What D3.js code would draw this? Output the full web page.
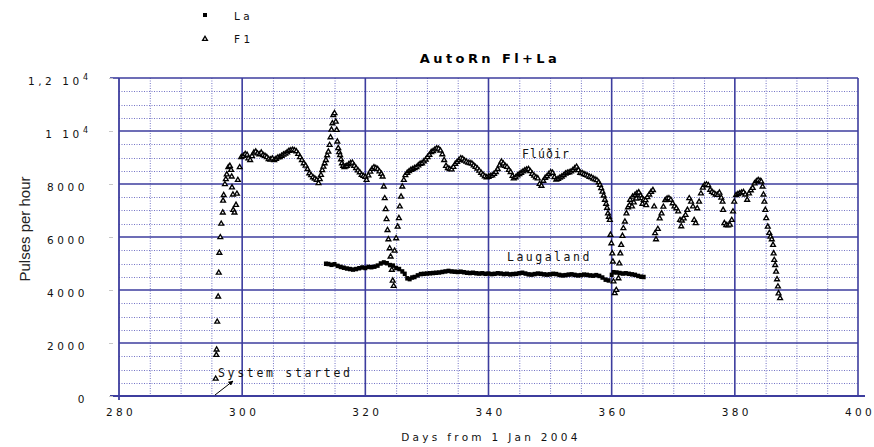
<!DOCTYPE html>
<html>
<head>
<meta charset="utf-8">
<script src="https://cdn.jsdelivr.net/npm/d3@7/dist/d3.min.js"></script>
<style>
  body { margin: 0; background: #fff; }
  svg { display: block; }
</style>
</head>
<body>
<svg id="chart" width="874" height="447"></svg>
<script>
// ---- data -------------------------------------------------------------
const chartTitle = "AutoRn Fl+La";
const xTicks = [280, 300, 320, 340, 360, 380, 400];
const yTicks = [0, 2000, 4000, 6000, 8000, 10000, 12000];
const yTickLabels = ["0", "2000", "4000", "6000", "8000", "1 10^4", "1,2 10^4"];
const seriesNames = ["La", "F1"];

// Laugaland: [day, pulses per hour]
const laPoints = [
  [313.6,5000],[314.0,4990],[314.5,4960],[315.0,4980],[315.5,4920],[316.0,4880],[316.5,4850],
  [317.0,4820],[317.5,4800],[318.0,4780],[318.5,4800],[319.0,4830],[319.5,4860],[320.0,4840],
  [320.5,4880],[321.0,4870],[321.5,4890],[322.0,4930],[322.5,5010],[323.0,5050],[323.5,5020],
  [324.0,4950],[324.5,4930],[325.0,4840],[325.5,4800],[326.0,4710],[326.4,4620],[326.8,4450],
  [327.2,4420],[327.6,4480],[328.0,4500],[328.5,4560],[329.0,4610],[329.5,4620],[330.0,4630],
  [330.5,4640],[331.0,4650],[331.5,4660],[332.0,4670],[332.5,4690],[333.0,4710],[333.5,4730],
  [334.0,4710],[334.5,4700],[335.0,4690],[335.5,4700],[336.0,4680],[336.5,4660],[337.0,4650],
  [337.5,4660],[338.0,4640],[338.5,4630],[339.0,4640],[339.5,4620],[340.0,4630],[340.5,4610],
  [341.0,4620],[341.5,4640],[342.0,4630],[342.5,4610],[343.0,4620],[343.5,4600],[344.0,4610],
  [344.5,4620],[345.0,4640],[345.5,4660],[346.0,4630],[346.5,4600],[347.0,4590],[347.5,4610],
  [348.0,4630],[348.5,4620],[349.0,4600],[349.5,4590],[350.0,4600],[350.5,4620],[351.0,4610],
  [351.5,4580],[352.0,4560],[352.5,4570],[353.0,4590],[353.5,4600],[354.0,4580],[354.5,4560],
  [355.0,4570],[355.5,4590],[356.0,4580],[356.5,4560],[357.0,4550],[357.5,4570],[358.0,4540],
  [358.5,4480],[359.0,4400],[359.5,4370],[360.0,4580],[360.3,4680],[360.8,4670],[361.3,4650],
  [361.8,4630],[362.3,4640],[362.8,4620],[363.3,4600],[363.8,4580],[364.3,4540],[364.8,4510],
  [365.2,4500]
];

// Fluedir: [day, pulses per hour]
const flPoints = [
  [295.7,650],[295.8,1550],[295.85,1750],[295.95,2800],[296.1,3750],[296.2,4650],[296.3,5400],
  [296.45,5990],[296.6,6500],[296.85,6920],[296.9,7370],[297.0,7580],[297.2,7990],[297.35,8180],
  [297.5,8360],[297.75,8630],[298.0,8680],[298.2,8530],[298.3,8280],[298.35,7870],[298.5,7600],
  [298.55,7020],[298.75,6920],[299.0,7210],[299.15,7630],[299.3,8150],[299.6,8630],[299.85,9010],
  [300.2,9060],[300.5,9130],[300.8,9100],[301.0,8960],[301.3,8900],[301.6,9050],[301.9,9180],
  [302.2,9220],[302.5,9150],[302.8,9120],[303.1,9180],[303.4,9090],[303.7,9060],[304.0,9010],
  [304.3,8940],[304.6,8920],[304.9,8960],[305.2,8900],[305.5,8950],[305.8,9000],[306.1,9010],
  [306.4,9060],[306.7,9110],[307.0,9140],[307.3,9190],[307.6,9250],[307.9,9270],[308.2,9290],
  [308.5,9270],[308.8,9230],[309.1,9130],[309.4,9010],[309.7,8900],[310.0,8780],[310.3,8690],
  [310.6,8560],[310.9,8400],[311.2,8330],[311.5,8250],[311.8,8200],[312.1,8150],[312.4,8030],
  [312.6,8180],[312.8,8340],[313.0,8520],[313.2,8650],[313.4,8780],[313.6,8900],[313.8,9080],
  [314.0,9220],[314.2,9470],[314.35,9760],[314.5,10050],[314.65,10290],[314.8,10600],[315.0,10670],
  [315.2,10350],[315.35,10040],[315.45,9600],[315.6,9350],[315.75,9200],[315.9,9090],[316.05,8930],
  [316.2,8780],[316.4,8680],[316.6,8630],[316.8,8660],[317.0,8680],[317.3,8740],[317.6,8790],
  [317.9,8800],[318.2,8680],[318.5,8600],[318.8,8510],[319.1,8440],[319.4,8340],[319.7,8300],
  [320.0,8270],[320.2,8150],[320.5,8320],[320.8,8460],[321.1,8570],[321.4,8630],[321.7,8600],
  [322.0,8560],[322.3,8470],[322.6,8380],[322.8,8280],[323.0,7900],[323.15,7460],[323.3,7050],
  [323.45,6670],[323.6,6260],[323.75,5910],[323.95,5570],[324.1,5260],[324.3,4760],[324.45,4350],
  [324.6,4150],[324.75,5480],[325.0,5950],[325.25,6390],[325.45,6710],[325.6,7150],[325.8,7520],
  [326.0,7900],[326.25,8150],[326.5,8330],[326.8,8420],[327.1,8480],[327.4,8530],[327.7,8560],
  [328.0,8600],[328.3,8630],[328.6,8700],[328.9,8760],[329.2,8780],[329.5,8850],[329.8,8920],
  [330.1,9010],[330.4,9100],[330.7,9200],[331.0,9240],[331.3,9300],[331.6,9340],[331.9,9330],
  [332.2,9260],[332.5,9120],[332.8,8900],[333.1,8680],[333.4,8600],[333.7,8560],[334.0,8550],
  [334.3,8640],[334.6,8760],[334.9,8830],[335.2,8900],[335.5,8970],[335.8,8950],[336.1,8880],
  [336.4,8840],[336.7,8800],[337.0,8790],[337.3,8770],[337.6,8700],[337.9,8640],[338.2,8580],
  [338.5,8500],[338.8,8420],[339.1,8350],[339.4,8290],[339.7,8250],[340.0,8270],[340.3,8300],
  [340.6,8320],[340.9,8380],[341.2,8450],[341.5,8560],[341.8,8700],[342.1,8840],[342.4,8770],
  [342.7,8680],[343.0,8640],[343.3,8530],[343.6,8450],[343.9,8300],[344.1,8210],[344.4,8250],
  [344.7,8320],[345.0,8370],[345.3,8420],[345.6,8470],[345.9,8510],[346.2,8540],[346.5,8560],
  [346.8,8480],[347.1,8380],[347.4,8310],[347.7,8250],[348.0,8210],[348.3,8000],[348.6,7930],
  [348.9,8120],[349.2,8230],[349.5,8290],[349.8,8370],[350.1,8440],[350.4,8420],[350.7,8260],
  [351.0,8160],[351.3,8190],[351.6,8240],[351.9,8280],[352.2,8330],[352.5,8390],[352.8,8420],
  [353.1,8440],[353.4,8470],[353.7,8520],[354.0,8590],[354.3,8650],[354.6,8520],[354.9,8420],
  [355.2,8410],[355.5,8370],[355.8,8340],[356.1,8310],[356.4,8270],[356.7,8250],[357.0,8200],
  [357.3,8170],[357.6,8140],[357.9,8060],[358.1,7960],[358.3,7840],[358.5,7710],[358.7,7560],
  [358.9,7400],[359.1,7250],[359.25,7100],[359.4,6890],[359.55,6760],[359.7,6640],[359.8,6080],
  [359.95,5760],[360.1,5380],[360.2,5070],[360.3,4320],[360.5,3880],[360.75,4000],[361.1,4440],
  [361.25,5000],[361.4,5380],[361.55,5700],[361.75,6040],[361.9,6330],[362.15,6580],[362.4,6890],
  [362.65,7120],[362.9,7200],[363.0,7400],[363.3,7150],[363.4,7520],[363.6,7300],[363.8,7590],
  [364.0,7450],[364.1,7650],[364.4,7680],[364.7,7560],[364.9,7460],[365.0,7250],[365.2,7400],
  [365.5,7390],[365.6,7200],[365.8,7500],[366.1,7600],[366.4,7700],[366.7,7770],[366.9,7150],
  [367.05,6140],[367.2,5910],[367.5,6300],[367.8,6700],[368.1,6890],[368.4,7140],[368.7,7390],
  [369.0,7450],[369.3,7460],[369.6,7400],[369.9,7270],[370.2,7150],[370.5,7080],[370.8,6960],
  [371.1,6640],[371.3,6400],[371.4,6620],[371.7,6700],[372.0,6830],[372.3,7020],[372.6,7460],
  [372.9,7330],[373.2,7150],[373.4,6640],[373.65,6520],[373.9,7080],[374.2,7330],[374.5,7640],
  [374.8,7860],[375.1,7960],[375.4,7980],[375.7,7950],[376.0,7780],[376.3,7700],[376.6,7650],
  [376.9,7600],[377.2,7590],[377.5,7670],[377.8,7480],[378.0,7330],[378.1,7020],[378.3,6520],
  [378.6,6450],[378.9,6440],[379.2,6460],[379.5,6640],[379.7,6960],[379.9,7330],[380.2,7580],
  [380.5,7620],[380.8,7650],[381.1,7670],[381.4,7690],[381.7,7600],[382.0,7400],[382.3,7640],
  [382.6,7760],[382.9,7850],[383.2,8020],[383.5,8100],[383.8,8150],[384.1,8120],[384.3,8090],
  [384.5,7900],[384.65,7600],[384.8,7330],[384.95,7020],[385.1,6710],[385.35,6390],[385.6,6150],
  [385.8,6010],[386.0,5910],[386.2,5700],[386.3,5380],[386.4,5130],[386.55,4940],[386.7,4690],
  [386.85,4400],[387.0,4130],[387.1,3870],[387.35,3690]
];

// ---- layout -----------------------------------------------------------
const svg = d3.select("#chart");
const x = d3.scaleLinear().domain([280, 400]).range([119, 858]);
const y = d3.scaleLinear().domain([0, 12000]).range([396, 78]);

const gridMajor = "#3d3d9e";
const gridMinor = "#7474c6";
const labelFont = "'DejaVu Sans', Verdana, sans-serif";
const monoFont = "'DejaVu Sans Mono', monospace";

// minor grid (dotted)
const minorDays = d3.range(285, 400, 5).filter(d => d % 20 !== 0);
const minorVals = d3.range(500, 12000, 500).filter(v => v % 2000 !== 0);

const grid = svg.append("g");
grid.selectAll("line.vmin").data(minorDays).join("line")
  .attr("x1", d => x(d) + 0.5).attr("x2", d => x(d) + 0.5)
  .attr("y1", y(12000)).attr("y2", y(0))
  .attr("stroke", gridMinor).attr("stroke-width", 1).attr("stroke-dasharray", "1,1.5");
grid.selectAll("line.hmin").data(minorVals).join("line")
  .attr("x1", x(280)).attr("x2", x(400))
  .attr("y1", d => Math.round(y(d)) + 0.5).attr("y2", d => Math.round(y(d)) + 0.5)
  .attr("stroke", gridMinor).attr("stroke-width", 1).attr("stroke-dasharray", "1,1.5");

// major grid (solid)
grid.selectAll("line.vmaj").data(xTicks.slice(1)).join("line")
  .attr("x1", d => x(d)).attr("x2", d => x(d))
  .attr("y1", y(12000)).attr("y2", y(0))
  .attr("stroke", gridMajor).attr("stroke-width", 1.6);
grid.selectAll("line.hmaj").data(yTicks.slice(1)).join("line")
  .attr("x1", x(280)).attr("x2", x(400))
  .attr("y1", d => y(d)).attr("y2", d => y(d))
  .attr("stroke", gridMajor).attr("stroke-width", 1.6);

// axis lines
svg.append("line").attr("x1", x(280) - 9).attr("x2", x(400) + 7)
  .attr("y1", y(0)).attr("y2", y(0))
  .attr("stroke", gridMajor).attr("stroke-width", 1.8);
svg.append("line").attr("x1", x(280)).attr("x2", x(280))
  .attr("y1", y(12000)).attr("y2", y(0) + 4)
  .attr("stroke", gridMajor).attr("stroke-width", 1.8);
svg.append("line").attr("x1", x(280) - 9).attr("x2", x(280))
  .attr("y1", y(12000)).attr("y2", y(12000))
  .attr("stroke", gridMajor).attr("stroke-width", 1.6);

// ---- axes labels via d3 axes ------------------------------------------
const xAxis = d3.axisBottom(x).tickValues(xTicks).tickSize(0).tickPadding(0)
  .tickFormat(d3.format("d"));
const gx = svg.append("g").attr("transform", `translate(0,${y(0)})`).call(xAxis);
gx.select(".domain").remove();
gx.selectAll("text")
  .attr("y", 20).attr("dy", 0)
  .attr("dx", "1.5px")
  .style("font-family", labelFont).style("font-size", "10.5px")
  .style("letter-spacing", "3.4px").attr("fill", "#111");

const yAxis = d3.axisLeft(y).tickValues(yTicks).tickSize(0).tickPadding(0)
  .tickFormat(() => "");
const gy = svg.append("g").attr("transform", `translate(${x(280)},0)`).call(yAxis);
gy.select(".domain").remove();
gy.selectAll(".tick").each(function(d, i) {
  const parts = yTickLabels[i].split("^");
  const t = d3.select(this).select("text")
    .attr("x", -31).attr("dy", 0).attr("y", 6)
    .attr("text-anchor", "end")
    .style("font-family", labelFont).style("font-size", "10.5px")
    .style("letter-spacing", "3.6px").attr("fill", "#111");
  t.append("tspan").text(parts[0]);
  if (parts[1]) {
    t.append("tspan").attr("dy", -5).style("font-size", "8px")
      .style("letter-spacing", "0px").text(parts[1]);
  }
  d3.select(this).append("line")
    .attr("x1", -10).attr("x2", -6).attr("y1", 0).attr("y2", 0)
    .attr("stroke", "#c8c8c8").attr("stroke-width", 1);
});

// ---- series -----------------------------------------------------------
const marks = svg.append("g");
marks.selectAll("rect.la").data(laPoints).join("rect")
  .attr("x", d => x(d[0]) - 2).attr("y", d => y(d[1]) - 2)
  .attr("width", 4).attr("height", 4.5).attr("fill", "#000");

const tri = d3.symbol().type(d3.symbolTriangle).size(10);
marks.selectAll("path.fl").data(flPoints).join("path")
  .attr("d", tri)
  .attr("transform", d => `translate(${x(d[0])},${y(d[1])})`)
  .attr("fill", "#fff").attr("stroke", "#000").attr("stroke-width", 1.35);

// ---- titles and annotations --------------------------------------------
svg.append("text").attr("x", 490).attr("y", 62.5).attr("text-anchor", "middle")
  .style("font-family", labelFont).style("font-size", "13px").style("font-weight", "bold")
  .style("letter-spacing", "3.4px").attr("fill", "#000").text(chartTitle);

svg.append("text").attr("x", 491).attr("y", 441).attr("text-anchor", "middle")
  .style("font-family", labelFont).style("font-size", "10.5px")
  .style("letter-spacing", "3.3px").attr("fill", "#111").text("Days from 1 Jan 2004");

svg.append("text").attr("transform", "translate(30,229) rotate(-90)")
  .attr("text-anchor", "middle")
  .style("font-family", "'Liberation Sans Narrow', 'Arial Narrow', sans-serif")
  .style("font-size", "15px").style("font-stretch", "condensed")
  .attr("fill", "#222").text("Pulses per hour");

// legend
const legend = svg.append("g");
legend.append("rect").attr("x", 203).attr("y", 13).attr("width", 4).attr("height", 4).attr("fill", "#000");
legend.append("path").attr("d", tri).attr("transform", "translate(205,39)")
  .attr("fill", "#fff").attr("stroke", "#000").attr("stroke-width", 1.35);
legend.selectAll("text.lg").data(seriesNames).join("text")
  .attr("x", 234).attr("y", (d, i) => 19.5 + i * 23)
  .style("font-family", labelFont).style("font-size", "10.5px")
  .style("letter-spacing", "3.5px").attr("fill", "#111").text(d => d);

// in-plot labels
const note = (txt, x0, y0, ls) => svg.append("text").attr("x", x0).attr("y", y0)
  .style("font-family", monoFont).style("font-size", "11.5px")
  .style("letter-spacing", ls).attr("fill", "#111").text(txt);
note("Flúðir", 522, 158, "1.1px");
note("Laugaland", 507, 260.5, "2.5px");
note("System started", 218, 376.5, "2.7px");

// start arrow
const defs = svg.append("defs");
defs.append("marker").attr("id", "head").attr("viewBox", "0 0 10 10")
  .attr("refX", 9).attr("refY", 5).attr("markerWidth", 5).attr("markerHeight", 5)
  .attr("orient", "auto")
  .append("path").attr("d", "M0,0 L10,5 L0,10 z").attr("fill", "#000");
svg.append("line").attr("x1", 215).attr("y1", 395).attr("x2", 233).attr("y2", 381)
  .attr("stroke", "#000").attr("stroke-width", 1).attr("marker-end", "url(#head)");
</script>
</body>
</html>
